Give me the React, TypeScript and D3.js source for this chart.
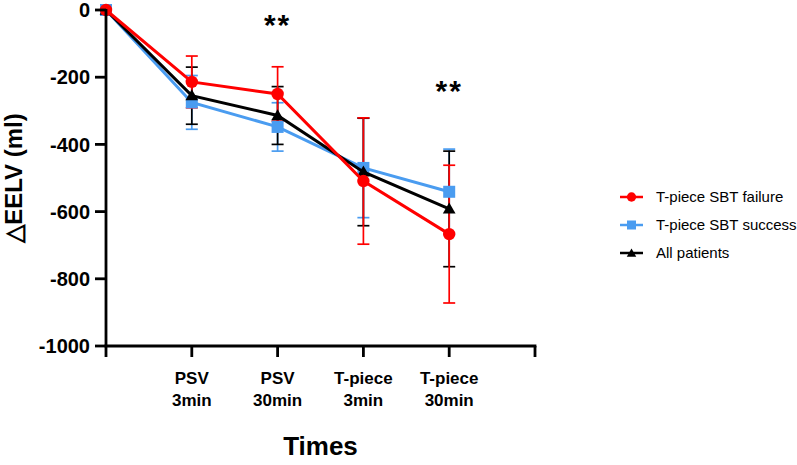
import React from "react";
import * as d3 from "d3";

// Time points along the weaning trial
const timeLabels: string[][] = [
  [],
  ["PSV", "3min"],
  ["PSV", "30min"],
  ["T-piece", "3min"],
  ["T-piece", "30min"],
];

// ΔEELV means (ml) and SD per group
const failureMean = [0, -214, -250, -509, -667];
const failureSd = [0, 77, 81, 188, 205];
const successMean = [0, -275, -348, -470, -541];
const successSd = [0, 80, 72, 148, 127];
const allMean = [0, -255, -314, -482, -592];
const allSd = [0, 85, 86, 160, 172];

const yTicks = [0, -200, -400, -600, -800, -1000];
const significance = [
  { index: 2, label: "**", value: -30 },
  { index: 4, label: "**", value: -225 },
];

type Series = {
  name: string;
  color: string;
  shape: "circle" | "square" | "triangle";
  mean: number[];
  sd: number[];
};

const series: Series[] = [
  { name: "T-piece SBT success", color: "#4a9cf0", shape: "square", mean: successMean, sd: successSd },
  { name: "All patients", color: "#000000", shape: "triangle", mean: allMean, sd: allSd },
  { name: "T-piece SBT failure", color: "#ff0000", shape: "circle", mean: failureMean, sd: failureSd },
];
const legendOrder = [2, 0, 1];

const W = 797;
const H = 465;
const FONT = "'Liberation Sans', Arial, Helvetica, sans-serif";

const x = d3.scaleLinear().domain([0, 5]).range([106, 535]);
const y = d3.scaleLinear().domain([0, -1000]).range([10, 346]);

function Marker({ shape, cx, cy, color, size = 1 }: { shape: string; cx: number; cy: number; color: string; size?: number }) {
  if (shape === "circle") return <circle cx={cx} cy={cy} r={6.2 * size} fill={color} />;
  if (shape === "square")
    return <rect x={cx - 6 * size} y={cy - 6 * size} width={12 * size} height={12 * size} fill={color} />;
  const tri = d3.symbol(d3.symbolTriangle, 70 * size * size)();
  return <path d={tri ?? ""} transform={`translate(${cx},${cy + 1})`} fill={color} />;
}

export default function App() {
  const line = d3
    .line<number>()
    .x((_, i) => x(i))
    .y((d) => y(d));

  return (
    <svg width={W} height={H} style={{ position: "absolute", left: 0, top: 0, background: "#fff" }} fontFamily={FONT}>
      {/* error bars */}
      {series.map((s) => (
        <g key={s.name + "-err"} stroke={s.color} strokeWidth={1.7}>
          {s.mean.map((m, i) =>
            s.sd[i] > 0 ? (
              <g key={i}>
                <line x1={x(i)} x2={x(i)} y1={y(m + s.sd[i])} y2={y(m - s.sd[i])} />
                <line x1={x(i) - 6} x2={x(i) + 6} y1={y(m + s.sd[i])} y2={y(m + s.sd[i])} />
                <line x1={x(i) - 6} x2={x(i) + 6} y1={y(m - s.sd[i])} y2={y(m - s.sd[i])} />
              </g>
            ) : null
          )}
        </g>
      ))}

      {/* lines and markers */}
      {series.map((s) => (
        <g key={s.name}>
          <path d={line(s.mean) ?? ""} fill="none" stroke={s.color} strokeWidth={3} />
          {s.mean.map((m, i) => (
            <Marker key={i} shape={s.shape} cx={x(i)} cy={y(m)} color={s.color} />
          ))}
        </g>
      ))}

      {/* y axis */}
      <g stroke="#000" strokeWidth={2.8}>
        <line x1={x(0)} x2={x(0)} y1={y(0) - 1} y2={y(-1000)} />
        {yTicks.map((t) => (
          <line key={t} x1={x(0) - 11} x2={x(0)} y1={y(t)} y2={y(t)} />
        ))}
      </g>
      {yTicks.map((t) => (
        <text key={t} x={x(0) - 16} y={y(t)} dy="0.36em" textAnchor="end" fontSize={20} fontWeight="bold">
          {t}
        </text>
      ))}
      <text
        transform={`translate(22,${(y(0) + y(-1000)) / 2}) rotate(-90)`}
        textAnchor="middle"
        fontSize={24}
        fontWeight="bold"
      >
        △EELV (ml)
      </text>

      {/* x axis */}
      <g stroke="#000" strokeWidth={2.8}>
        <line x1={x(0) - 1.4} x2={x(5) + 1.4} y1={y(-1000)} y2={y(-1000)} />
        {d3.range(0, 6).map((i) => (
          <line key={i} x1={x(i)} x2={x(i)} y1={y(-1000)} y2={y(-1000) + 11} />
        ))}
      </g>
      {timeLabels.map((lines, i) =>
        lines.map((l, k) => (
          <text key={`${i}-${k}`} x={x(i)} y={378 + k * 22} dy="0.36em" textAnchor="middle" fontSize={17} fontWeight="bold">
            {l}
          </text>
        ))
      )}
      <text x={(x(0) + x(5)) / 2} y={446} dy="0.36em" textAnchor="middle" fontSize={26} fontWeight="bold">
        Times
      </text>

      {/* significance markers */}
      {significance.map((s) => (
        <text key={s.index} x={x(s.index)} y={y(s.value)} dy="0.5em" textAnchor="middle" fontSize={30} fontWeight="bold" letterSpacing={2}>
          {s.label}
        </text>
      ))}

      {/* legend */}
      {legendOrder.map((si, k) => {
        const s = series[si];
        const ly = 197 + k * 28;
        return (
          <g key={s.name}>
            <line x1={620} x2={643} y1={ly} y2={ly} stroke={s.color} strokeWidth={2.5} />
            <Marker shape={s.shape} cx={631.5} cy={ly} color={s.color} size={0.75} />
            <text x={656} y={ly} dy="0.36em" fontSize={15}>
              {s.name}
            </text>
          </g>
        );
      })}
    </svg>
  );
}
